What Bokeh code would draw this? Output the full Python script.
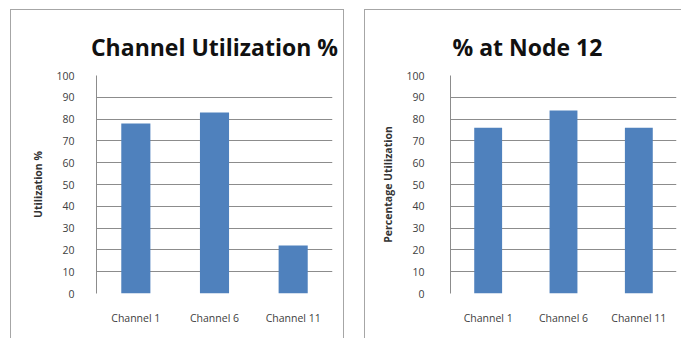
from bokeh.plotting import figure
from bokeh.layouts import row
from bokeh.models import FixedTicker, Range1d
from bokeh.embed import file_html
from bokeh.resources import INLINE

# Channel utilization data
channels_all = ["Channel 1", "Channel 6", "Channel 11"]
utilization_all = [78, 83, 22]

channels_node = ["Channel 1", "Channel 6", "Channel 11"]
utilization_node = [76, 84, 76]

y_ticks = [0, 10, 20, 30, 40, 50, 60, 70, 80, 90, 100]
grid_ticks = [10, 20, 30, 40, 50, 60, 70, 80, 90, 100]

BAR = "#4F81BD"
GRID = "#8C8C8C"
FONT = "Open Sans"


def panel(cats, vals, title, ylabel, width, frame_width, left, right,
          title_align, title_offset, tick_standoff, border_css):
    p = figure(x_range=cats, y_range=Range1d(0, 100),
               width=width, height=330,
               frame_width=frame_width, frame_height=217,
               min_border_left=left, min_border_right=right,
               min_border_top=65, min_border_bottom=46,
               toolbar_location=None, output_backend="svg",
               margin=(9, 0, 0, 0), styles=border_css)
    p.vbar(x=cats, top=vals, width=0.37, color=BAR, line_color=None)

    p.title.text = title
    p.title.align = title_align
    p.title.offset = title_offset
    p.title.vertical_align = "top"
    p.title.text_font = FONT
    p.title.text_font_size = "23px"
    p.title.text_font_style = "bold"
    p.title.text_color = "#111111"
    p.title.standoff = 22

    p.outline_line_color = None
    p.background_fill_color = "white"
    p.border_fill_color = "white"

    p.xgrid.grid_line_color = None
    p.ygrid.ticker = FixedTicker(ticks=grid_ticks)
    p.ygrid.grid_line_color = GRID
    p.ygrid.grid_line_width = 1

    p.yaxis.ticker = FixedTicker(ticks=y_ticks)
    p.yaxis.axis_line_color = GRID
    p.yaxis.major_tick_line_color = None
    p.yaxis.minor_tick_line_color = None
    p.yaxis.major_label_standoff = tick_standoff
    p.yaxis.major_label_text_font = FONT
    p.yaxis.major_label_text_font_size = "10.5px"
    p.yaxis.major_label_text_color = "#404040"
    p.yaxis.axis_label = ylabel
    p.yaxis.axis_label_text_font = FONT
    p.yaxis.axis_label_text_font_size = "10.5px"
    p.yaxis.axis_label_text_font_style = "bold"
    p.yaxis.axis_label_text_color = "#333333"
    p.yaxis.axis_label_standoff = 8

    p.xaxis.axis_line_color = None
    p.xaxis.major_tick_line_color = None
    p.xaxis.minor_tick_line_color = None
    p.xaxis.major_label_standoff = 11
    p.xaxis.major_label_text_font = FONT
    p.xaxis.major_label_text_font_size = "10.5px"
    p.xaxis.major_label_text_color = "#404040"
    return p


left_border = {"border": "1px solid #A6A6A6", "border-bottom": "none"}
right_border = {"border": "1px solid #A6A6A6", "border-bottom": "none",
                "border-right": "none"}

p1 = panel(channels_all, utilization_all, "Channel Utilization %",
           "Utilization %", 332, 234, 85, 13, "center", 0, 16, left_border)
p2 = panel(channels_node, utilization_node, "% at Node 12",
           "Percentage Utilization", 316, 225, 85, 6, "left", 2, 20,
           right_border)

layout = row(p1, p2, spacing=20, margin=(0, 0, 0, 10))

open("out.html", "w").write(file_html(layout, INLINE))
